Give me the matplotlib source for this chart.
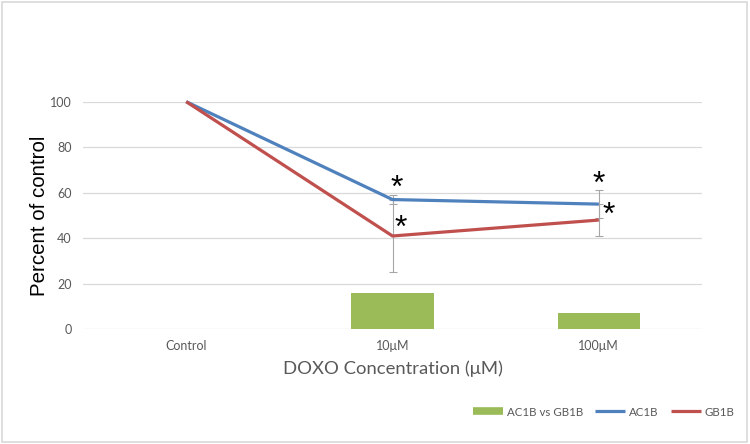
import matplotlib.pyplot as plt
from matplotlib.lines import Line2D
from matplotlib.patches import Rectangle

categories = ['Control', '10μM', '100μM']
ac1b = [100, 57, 55]
gb1b = [100, 41, 48]
ac1b_err = [0, 2, 6]
gb1b_err = [0, 16, 7]
diff_bars = [0, 16, 7]

# asterisk positions (category offset, value)
stars = [(1.02, 61.5), (1.04, 44.0), (2.0, 63.6), (2.05, 49.8)]

blue = '#4F81BD'
red = '#C0504D'
green = '#9BBB59'
grey_txt = '#595959'

fig = plt.figure(figsize=(7.5, 4.44), dpi=100)
ax = fig.add_axes([0.1107, 0.2583, 0.8253, 0.5127])

x = list(range(len(categories)))

ax.bar(x, diff_bars, width=0.4, color=green, zorder=2)
ax.errorbar(x[1:], ac1b[1:], yerr=ac1b_err[1:], fmt='none', ecolor='#A6A6A6',
            elinewidth=0.8, capsize=3, capthick=0.8, zorder=3)
ax.errorbar(x[1:], gb1b[1:], yerr=gb1b_err[1:], fmt='none', ecolor='#A6A6A6',
            elinewidth=0.8, capsize=3, capthick=0.8, zorder=3)
ax.plot(x, ac1b, color=blue, lw=2.3, zorder=4, clip_on=False, solid_capstyle='butt')
ax.plot(x, gb1b, color=red, lw=2.3, zorder=5, clip_on=False, solid_capstyle='butt')

for sx, sy in stars:
    ax.text(sx, sy, '*', fontsize=23, ha='center', va='center',
            family='Liberation Sans', color='black', zorder=6)

ax.set_xlim(-0.5, 2.5)
ax.set_ylim(0, 100)
ax.set_yticks(range(0, 101, 20))
ax.set_xticks(x)
ax.set_xticklabels(categories)
ax.tick_params(length=0, labelsize=9, labelcolor=grey_txt, pad=8)
for lab in ax.get_xticklabels() + ax.get_yticklabels():
    lab.set_family('Lato')
ax.grid(axis='y', color='#D9D9D9', lw=0.9, zorder=0)
ax.set_axisbelow(True)
for s in ax.spines.values():
    s.set_visible(False)

ax.set_ylabel('Percent of control', fontsize=14.8, family='Liberation Sans',
              color='black', labelpad=1)
ax.set_xlabel('DOXO Concentration (μM)', fontsize=13.3, family='Lato',
              color=grey_txt, labelpad=5.5)

handles = [Line2D([], [], color=green, lw=5.5, solid_capstyle='butt'),
           Line2D([], [], color=blue, lw=2.3, solid_capstyle='butt'),
           Line2D([], [], color=red, lw=2.3, solid_capstyle='butt')]
fig.legend(handles, ['AC1B vs GB1B', 'AC1B', 'GB1B'], ncol=3, frameon=False,
           loc='center right', bbox_to_anchor=(0.993, 0.072),
           prop={'family': 'Lato', 'size': 8.3}, labelcolor=grey_txt,
           handlelength=2.6, handletextpad=0.3, columnspacing=1.1)

fig.patches.append(Rectangle((0.003, 0.005), 0.993, 0.99, transform=fig.transFigure,
                             fill=False, edgecolor='#D9D9D9', lw=1.2))

fig.savefig('out.png', dpi=100)
